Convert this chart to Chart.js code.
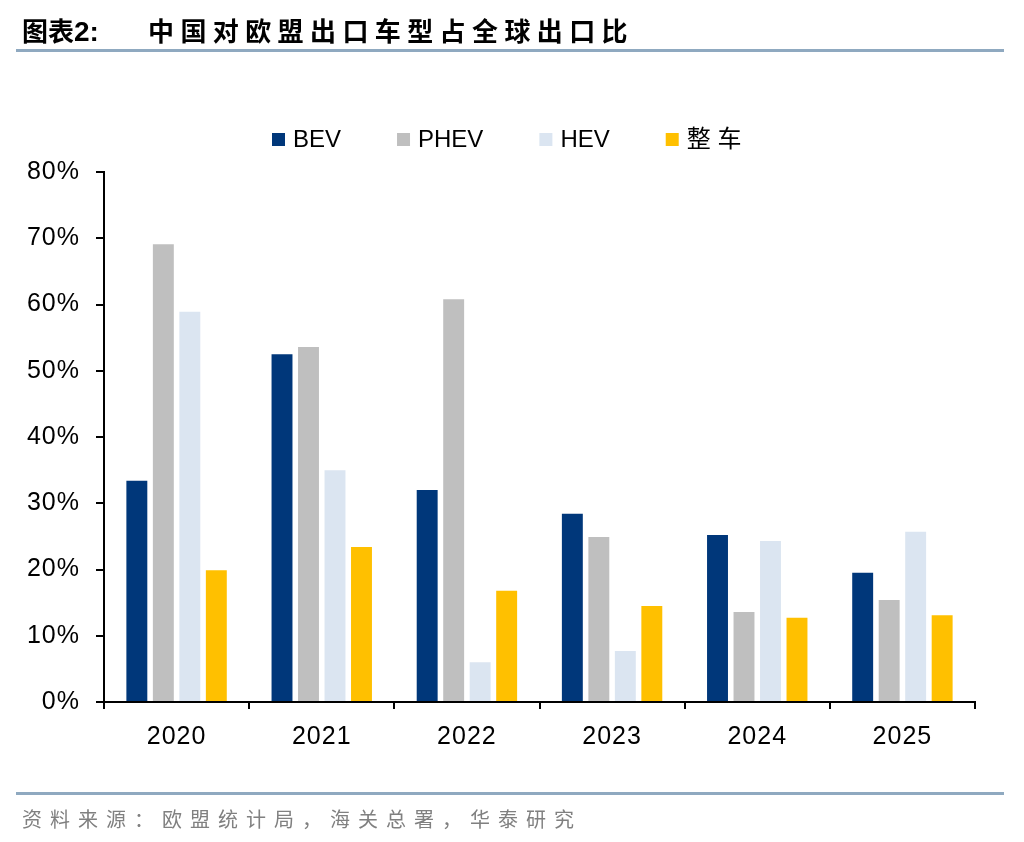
<!DOCTYPE html>
<html>
<head>
<meta charset="utf-8">
<script src="https://cdn.jsdelivr.net/npm/chart.js@4/dist/chart.umd.min.js"></script>
<style>
  html, body { margin: 0; padding: 0; background: #fff; }
  body { width: 1024px; height: 842px; position: relative; overflow: hidden; }
  #title { position: absolute; left: 22px; top: 12px; font-family: "Noto Sans CJK SC", sans-serif; font-weight: bold; font-size: 26px; line-height: 36px; color: #000; white-space: nowrap; }
  #title .num { font-family: "Liberation Sans", Arial, sans-serif; font-weight: bold; font-size: 28px; }
  #title .main { position: absolute; left: 126px; letter-spacing: 6.4px; }
  .rule { position: absolute; left: 16px; width: 988px; height: 3px; background: #8fa9c0; }
  #source { position: absolute; left: 22px; top: 804px; font-family: "Noto Sans CJK SC", sans-serif; font-size: 20px; line-height: 30px; color: #808080; letter-spacing: 8px; white-space: nowrap; }
  #wrap { position: absolute; left: 0; top: 0; width: 1024px; height: 842px; }
</style>
</head>
<body>
<div id="wrap"><canvas id="c" width="1024" height="842"></canvas></div>
<div id="title">图表<span class="num">2:</span><span class="main">中国对欧盟出口车型占全球出口比</span></div>
<div class="rule" style="top:49px"></div>
<div class="rule" style="top:792px"></div>
<div id="source">资料来源：欧盟统计局，海关总署，华泰研究</div>
<script>
const categories = ["2020", "2021", "2022", "2023", "2024", "2025"];
const seriesNames = ["BEV", "PHEV", "HEV", "整 车"];
const bev   = [33.4, 52.5, 32.0, 28.4, 25.2, 19.5];
const phev  = [69.1, 53.6, 60.8, 24.9, 13.6, 15.4];
const hev   = [58.9, 35.0, 6.0, 7.7, 24.3, 25.7];
const whole = [19.9, 23.4, 16.8, 14.5, 12.7, 13.1];
const yTicks = [0, 10, 20, 30, 40, 50, 60, 70, 80];
const colors = ["#00377a", "#bfbfbf", "#dbe5f1", "#ffc000"];

const allSeries = [bev, phev, hev, whole];
const datasets = allSeries.map((d, i) => ({
  label: seriesNames[i],
  data: d,
  backgroundColor: colors[i],
  borderWidth: 0,
  categoryPercentage: 0.73,
  barPercentage: 0.79
}));

const FONT = "'Liberation Sans', Arial, 'Noto Sans CJK SC', sans-serif";

const spacingPlugin = {
  id: "spacing",
  beforeDraw(chart) { chart.ctx.letterSpacing = "1px"; }
};

const legendPlugin = {
  id: "customLegend",
  afterDraw(chart) {
    const ctx = chart.ctx;
    ctx.save();
    ctx.letterSpacing = "0px";
    ctx.font = "24px " + FONT;
    ctx.textBaseline = "middle";
    ctx.textAlign = "left";
    const box = 13, gapText = 8, gapItem = 56, yMid = 139.5;
    let x = 272;
    chart.data.datasets.forEach((ds) => {
      ctx.fillStyle = ds.backgroundColor;
      ctx.fillRect(x, yMid - box / 2, box, box);
      ctx.fillStyle = "#000";
      ctx.fillText(ds.label, x + box + gapText, yMid + 1);
      x += box + gapText + ctx.measureText(ds.label).width + gapItem;
    });
    ctx.restore();
  }
};

new Chart(document.getElementById("c"), {
  type: "bar",
  data: { labels: categories, datasets: datasets },
  plugins: [spacingPlugin, legendPlugin],
  options: {
    responsive: false,
    animation: false,
    layout: { padding: { top: 172, left: 0, right: 49, bottom: 80 } },
    plugins: {
      tooltip: { enabled: false },
      legend: { display: false }
    },
    scales: {
      x: {
        offset: true,
        grid: { offset: true, drawOnChartArea: false, drawTicks: true, tickLength: 7, color: "#000", lineWidth: 2 },
        border: { display: true, color: "#000", width: 2 },
        ticks: { color: "#000", padding: 13, font: { family: FONT, size: 25 } },
        afterFit: (s) => { s.height = 60; }
      },
      y: {
        min: 0, max: 80,
        afterBuildTicks: (s) => { s.ticks = yTicks.map(v => ({ value: v })); },
        grid: { drawOnChartArea: false, drawTicks: true, tickLength: 8, color: "#000", lineWidth: 2 },
        border: { display: true, color: "#000", width: 2 },
        ticks: { color: "#000", padding: 16, callback: (v) => v + "%", font: { family: FONT, size: 25 } },
        afterFit: (s) => { s.width = 104; }
      }
    }
  }
});
</script>
</body>
</html>
